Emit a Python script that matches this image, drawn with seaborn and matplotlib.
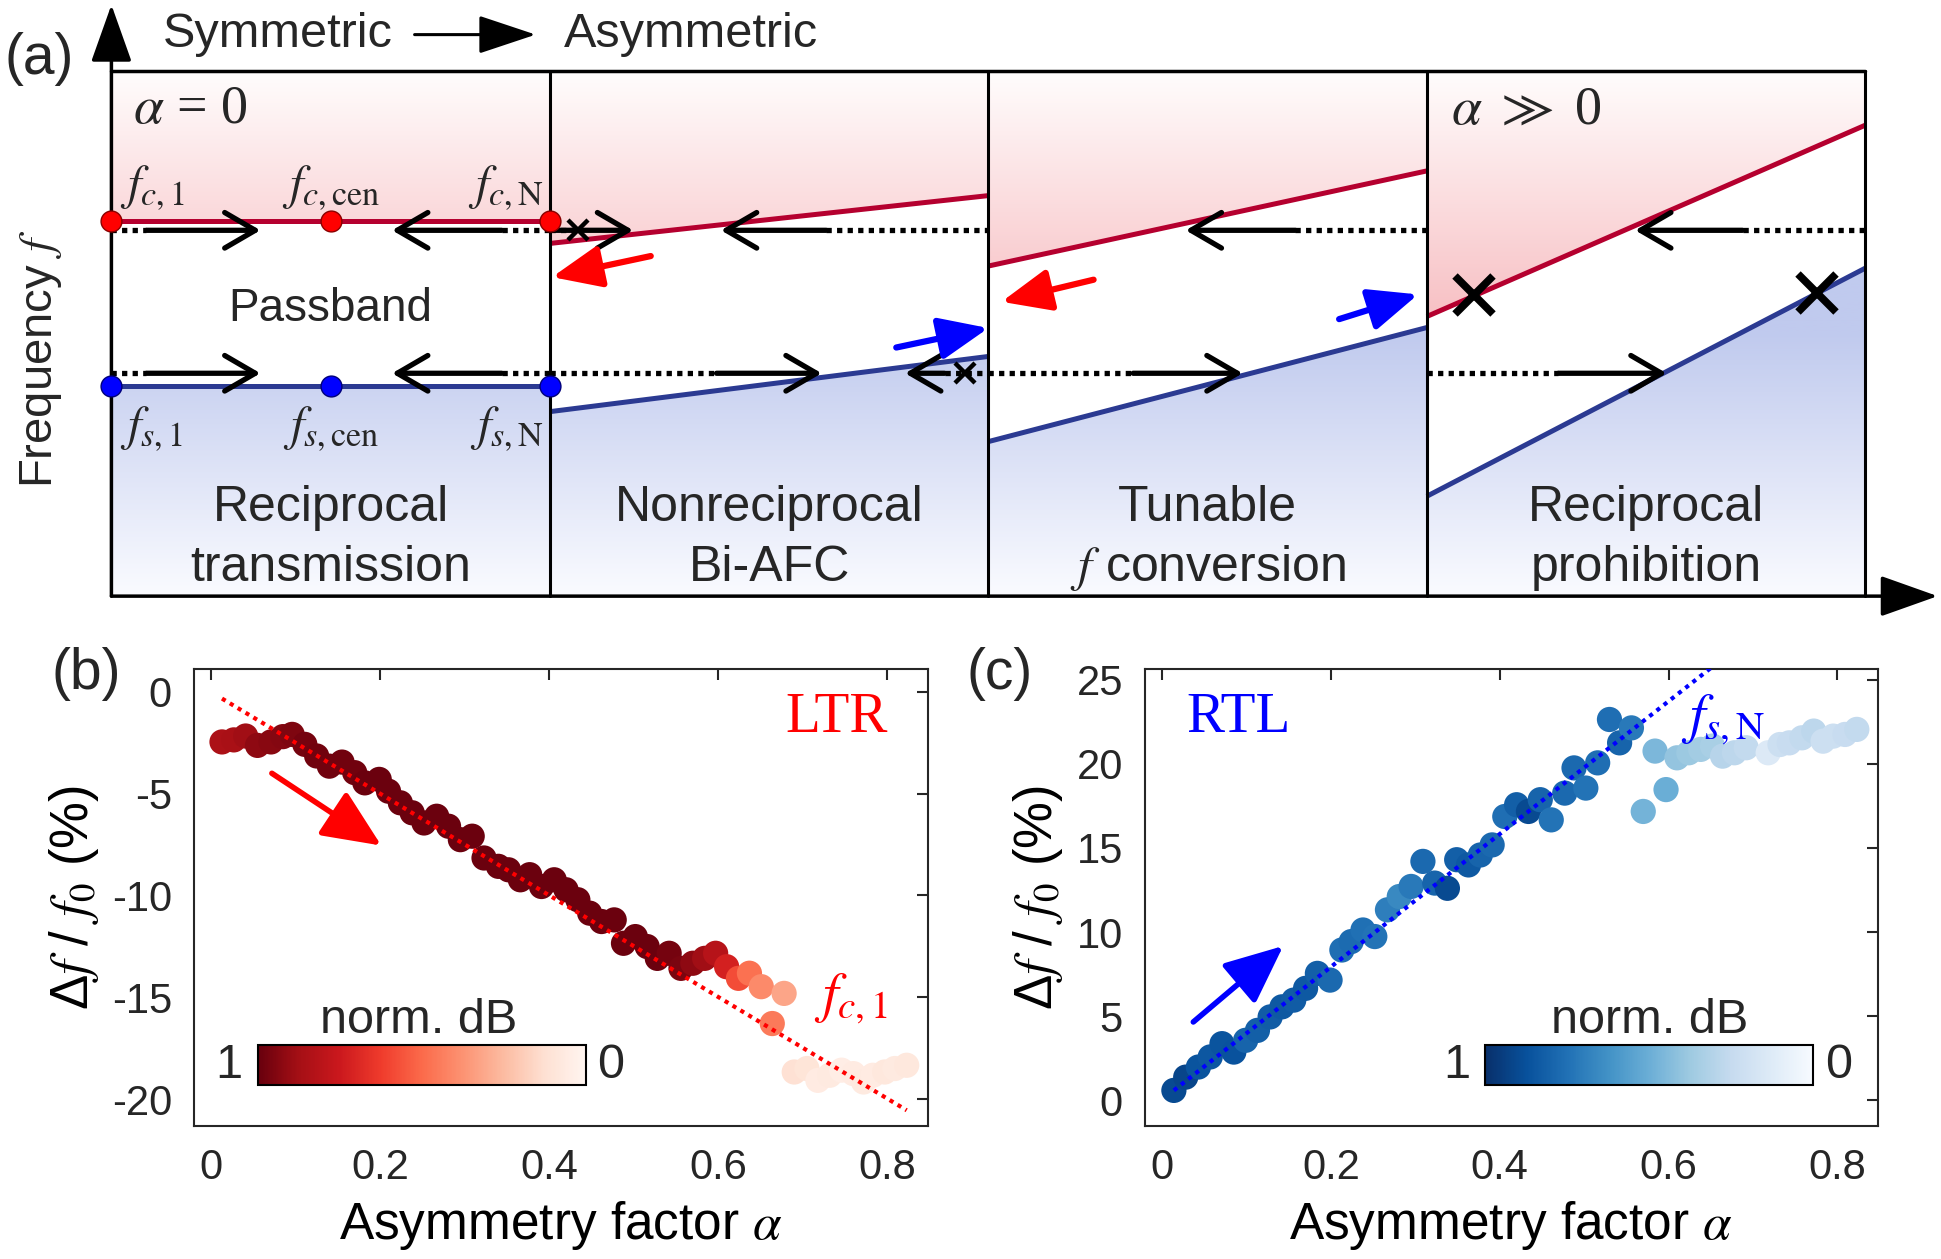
import numpy as np
import matplotlib
matplotlib.use("Agg")
import matplotlib.pyplot as plt
import seaborn as sns
import pandas as pd
from matplotlib.colors import Normalize
from matplotlib.patches import Polygon
import matplotlib.cm as cm

sns.set_theme(style="white")
plt.rcParams['font.family'] = ['Liberation Sans', 'DejaVu Sans']
plt.rcParams['mathtext.fontset'] = 'stix'
plt.rcParams['axes.unicode_minus'] = False

# ---------------- data: panel (b) LTR ----------------
ltr_alpha = [0.013, 0.027, 0.041, 0.055, 0.071, 0.085, 0.096, 0.111, 0.125, 0.140,
             0.155, 0.170, 0.182, 0.199, 0.210, 0.224, 0.238, 0.252, 0.267, 0.281,
             0.295, 0.309, 0.323, 0.340, 0.352, 0.366, 0.377, 0.391, 0.406, 0.420,
             0.434, 0.448, 0.462, 0.477, 0.488, 0.502, 0.516, 0.528, 0.542, 0.556,
             0.570, 0.584, 0.597, 0.610, 0.624, 0.637, 0.651, 0.678, 0.664, 0.690,
             0.705, 0.718, 0.732, 0.746, 0.760, 0.772, 0.783, 0.797, 0.809, 0.823]
ltr_shift = [-2.46, -2.36, -2.17, -2.63, -2.46, -2.20, -2.09, -2.58, -3.15, -3.65,
             -3.45, -3.97, -4.47, -4.30, -4.88, -5.45, -5.94, -6.44, -6.11, -6.60,
             -7.26, -7.09, -8.16, -8.57, -8.74, -9.23, -8.98, -9.56, -9.23, -9.72,
             -10.21, -10.87, -11.28, -11.20, -12.35, -12.02, -12.51, -13.09, -12.84, -13.58,
             -13.33, -13.09, -12.84, -13.50, -14.07, -13.82, -14.48, -14.81, -16.29, -18.67,
             -18.50, -19.08, -18.83, -18.58, -18.75, -19.16, -18.83, -18.67, -18.50, -18.34]
ltr_norm = [0.85, 0.86, 0.88, 0.92, 0.93, 0.94, 0.95, 0.97, 0.98, 0.98,
            0.98, 0.98, 0.99, 0.99, 0.99, 0.99, 0.99, 0.99, 0.99, 0.99,
            0.99, 0.99, 0.99, 0.99, 0.99, 0.99, 0.99, 0.99, 0.99, 0.99,
            0.99, 0.99, 0.99, 0.99, 0.99, 0.99, 0.99, 0.99, 0.97, 0.96,
            0.92, 0.88, 0.82, 0.72, 0.58, 0.48, 0.40, 0.32, 0.45, 0.12,
            0.10, 0.06, 0.07, 0.05, 0.06, 0.07, 0.06, 0.08, 0.07, 0.08]
ltr_fit_alpha = [0.013, 0.823]
ltr_fit_shift = [-0.33, -20.55]

# ---------------- data: panel (c) RTL ----------------
rtl_alpha = [0.014, 0.028, 0.043, 0.057, 0.071, 0.085, 0.099, 0.113, 0.128, 0.142,
             0.156, 0.170, 0.184, 0.199, 0.213, 0.224, 0.238, 0.252, 0.267, 0.281,
             0.295, 0.309, 0.323, 0.338, 0.349, 0.363, 0.377, 0.391, 0.406, 0.420,
             0.434, 0.448, 0.461, 0.477, 0.488, 0.502, 0.516, 0.530, 0.542, 0.556,
             0.570, 0.584, 0.597, 0.610, 0.624, 0.638, 0.652, 0.664, 0.678, 0.692,
             0.718, 0.732, 0.743, 0.758, 0.772, 0.783, 0.795, 0.809, 0.823]
rtl_shift = [0.58, 1.37, 1.97, 2.57, 3.36, 2.86, 3.56, 4.15, 4.95, 5.55,
             5.95, 6.65, 7.54, 7.14, 8.93, 9.43, 10.12, 9.73, 11.32, 12.11,
             12.71, 14.20, 12.91, 12.60, 14.30, 13.99, 14.58, 15.18, 16.87, 17.57,
             17.17, 17.87, 16.67, 18.26, 19.76, 18.56, 20.06, 22.64, 21.25, 22.14,
             17.17, 20.76, 18.47, 20.36, 20.66, 20.86, 21.06, 20.46, 20.66, 20.96,
             20.66, 21.15, 21.25, 21.55, 21.95, 21.35, 21.65, 21.75, 22.05]
rtl_norm = [0.90, 0.92, 0.86, 0.85, 0.86, 0.87, 0.80, 0.82, 0.83, 0.84,
            0.83, 0.84, 0.82, 0.78, 0.76, 0.77, 0.75, 0.74, 0.70, 0.66,
            0.72, 0.78, 0.80, 0.90, 0.82, 0.84, 0.80, 0.78, 0.76, 0.82,
            0.90, 0.80, 0.74, 0.78, 0.78, 0.74, 0.76, 0.76, 0.80, 0.72,
            0.48, 0.46, 0.50, 0.40, 0.38, 0.36, 0.34, 0.30, 0.28, 0.26,
            0.14, 0.22, 0.24, 0.26, 0.28, 0.22, 0.22, 0.24, 0.26]
rtl_fit_alpha = [0.014, 0.65]
rtl_fit_shift = [0.58, 25.7]

# ---------------- data: panel (a) schematic ----------------
stage_names = ["Reciprocal\ntransmission", "Nonreciprocal\nBi-AFC",
               "Tunable\n$f$ conversion", "Reciprocal\nprohibition"]
upper_left = [0.713, 0.671, 0.628, 0.532]
upper_right = [0.713, 0.762, 0.809, 0.896]
lower_left = [0.400, 0.351, 0.294, 0.190]
lower_right = [0.400, 0.456, 0.511, 0.624]
path_upper = 0.696
path_lower = 0.424
# dotted segments (x0, x1, y)
dotted_segments = [(0.0, 0.08, path_upper), (0.89, 1.0, path_upper),
                   (0.0, 0.08, path_lower), (0.89, 1.0, path_lower),
                   (1.0, 1.06, path_upper), (1.63, 2.0, path_upper),
                   (1.0, 1.38, path_lower), (1.9, 2.0, path_lower),
                   (2.70, 3.0, path_upper), (2.0, 2.33, path_lower),
                   (3.72, 4.0, path_upper), (3.0, 3.30, path_lower)]
# solid black arrows (x_tail, x_head, y)
black_arrows = [(0.08, 0.34, path_upper), (0.89, 0.64, path_upper),
                (0.08, 0.34, path_lower), (0.89, 0.64, path_lower),
                (1.0, 1.19, path_upper), (1.63, 1.39, path_upper),
                (1.38, 1.62, path_lower), (1.90, 1.81, path_lower),
                (2.70, 2.45, path_upper), (2.33, 2.58, path_lower),
                (3.72, 3.475, path_upper), (3.30, 3.547, path_lower)]
small_x_marks = [(1.065, path_upper), (1.947, path_lower)]
big_x_marks = [(3.107, 0.572), (3.89, 0.576)]
# coloured arrows ((x_tail, y_tail), (x_head, y_head), colour)
colour_arrows = [((1.23, 0.647), (1.005, 0.607), 'red'),
                 ((1.79, 0.473), (2.0, 0.510), 'blue'),
                 ((2.24, 0.602), (2.03, 0.560), 'red'),
                 ((2.80, 0.527), (2.98, 0.574), 'blue')]
dot_x = [0.0, 0.5, 1.0]

# ---------------- figure ----------------
fig = plt.figure(figsize=(19.41, 12.59), dpi=100)

axa = fig.add_axes([0.0574, 0.5265, 0.9036, 0.4175])
axa.set_xlim(0, 4)
axa.set_ylim(0, 1)
axa.axis('off')

red_line = '#b5002f'
blue_line = '#2b3a92'

def grad_image(c_low, c_high, y_low, y_high):
    ys = np.linspace(0, 1, 400)
    t = np.clip((ys - y_low) / (y_high - y_low), 0, 1)
    c_low = np.array(c_low) / 255.0
    c_high = np.array(c_high) / 255.0
    rgb = c_low[None, :] * (1 - t[:, None]) + c_high[None, :] * t[:, None]
    img = np.repeat(rgb[:, None, :], 2, axis=1)
    return img

red_img = grad_image((247, 188, 192), (255, 253, 253), 0.50, 1.0)
blue_img = grad_image((250, 251, 255), (192, 202, 238), 0.0, 0.50)

for i in range(4):
    pr = Polygon([(i, upper_left[i]), (i + 1, upper_right[i]), (i + 1, 1), (i, 1)],
                 closed=True, facecolor='none', edgecolor='none', transform=axa.transData)
    axa.add_patch(pr)
    im = axa.imshow(red_img, extent=[0, 4, 0, 1], origin='lower', aspect='auto', zorder=0)
    im.set_clip_path(pr)
    pb = Polygon([(i, lower_left[i]), (i + 1, lower_right[i]), (i + 1, 0), (i, 0)],
                 closed=True, facecolor='none', edgecolor='none', transform=axa.transData)
    axa.add_patch(pb)
    im2 = axa.imshow(blue_img, extent=[0, 4, 0, 1], origin='lower', aspect='auto', zorder=0)
    im2.set_clip_path(pb)
    axa.plot([i, i + 1], [upper_left[i], upper_right[i]], color=red_line, lw=3.6, zorder=2,
             solid_capstyle='butt')
    axa.plot([i, i + 1], [lower_left[i], lower_right[i]], color=blue_line, lw=3.6, zorder=2,
             solid_capstyle='butt')
    axa.text(i + 0.5, 0.168, stage_names[i].split('\n')[0], ha='center', va='center', fontsize=36)
    axa.text(i + 0.5, 0.053, stage_names[i].split('\n')[1], ha='center', va='center', fontsize=36)

axa.set_xlim(0, 4)
axa.set_ylim(0, 1)

# frame
for xv in [1, 2, 3, 4]:
    axa.plot([xv, xv], [0, 1], color='black', lw=2.2, zorder=5, clip_on=False)
axa.plot([0, 4], [1, 1], color='black', lw=2.5, zorder=5, clip_on=False)
# axis arrows
axa.annotate('', xy=(0, 1.125), xytext=(0, 0), xycoords='data',
             arrowprops=dict(arrowstyle='-|>,head_length=0.9,head_width=0.32', lw=2.5,
                             color='black', mutation_scale=40, shrinkA=0, shrinkB=0),
             annotation_clip=False, zorder=6)
axa.annotate('', xy=(4.165, 0), xytext=(0, 0), xycoords='data',
             arrowprops=dict(arrowstyle='-|>,head_length=0.9,head_width=0.32', lw=2.5,
                             color='black', mutation_scale=40, shrinkA=0, shrinkB=0),
             annotation_clip=False, zorder=6)

for (x0, x1, y) in dotted_segments:
    axa.plot([x0, x1], [y, y], color='black', lw=3.8, ls=(0, (1, 1)), zorder=3,
             solid_capstyle='butt', dash_capstyle='butt')
for (xt, xh, y) in black_arrows:
    axa.annotate('', xy=(xh, y), xytext=(xt, y),
                 arrowprops=dict(arrowstyle='->,head_length=0.55,head_width=0.32', lw=3.8,
                                 color='black', mutation_scale=40, shrinkA=0, shrinkB=0),
                 zorder=4)
for (xm, ym) in small_x_marks:
    axa.plot(xm, ym, marker='x', ms=14, mew=3.2, color='black', zorder=6)
for (xm, ym) in big_x_marks:
    axa.plot(xm, ym, marker='x', ms=27, mew=5.5, color='black', zorder=6)
for (tail, head, col) in colour_arrows:
    axa.annotate('', xy=head, xytext=tail,
                 arrowprops=dict(arrowstyle='-|>,head_length=0.75,head_width=0.32', lw=4.5,
                                 color=col, mutation_scale=40, shrinkA=0, shrinkB=0),
                 zorder=6, annotation_clip=False)

axa.plot(dot_x, [upper_left[0]] * 3, 'o', ms=15, mfc='red', mec='#8a0000', mew=1, zorder=7,
         clip_on=False)
axa.plot(dot_x, [lower_left[0]] * 3, 'o', ms=15, mfc='blue', mec='#00007a', mew=1, zorder=7,
         clip_on=False)

axa.text(0.02, 0.775, r'$f_{c,1}$', fontsize=35, ha='left', va='center')
axa.text(0.5, 0.775, r'$f_{c,\mathrm{cen}}$', fontsize=35, ha='center', va='center')
axa.text(0.985, 0.775, r'$f_{c,\mathrm{N}}$', fontsize=35, ha='right', va='center')
axa.text(0.02, 0.318, r'$f_{s,1}$', fontsize=35, ha='left', va='center')
axa.text(0.5, 0.318, r'$f_{s,\mathrm{cen}}$', fontsize=35, ha='center', va='center')
axa.text(0.985, 0.318, r'$f_{s,\mathrm{N}}$', fontsize=35, ha='right', va='center')
axa.text(0.5, 0.546, 'Passband', fontsize=33, ha='center', va='center')
axa.text(0.05, 0.925, r'$\alpha$ = 0', fontsize=39, ha='left', va='center',
         family=['Liberation Serif'])
axa.text(3.055, 0.925, r'$\alpha$ $\gg$ 0', fontsize=39, ha='left', va='center',
         family=['Liberation Serif'])

fig.text(0.1429, 0.9725, 'Symmetric', fontsize=35, ha='center', va='center')
fig.text(0.3559, 0.9725, 'Asymmetric', fontsize=35, ha='center', va='center')
axa.annotate('', xy=(0.2760, 0.9725), xytext=(0.2136, 0.9725), xycoords='figure fraction',
             arrowprops=dict(arrowstyle='-|>,head_length=0.9,head_width=0.3', lw=2.2,
                             color='black', mutation_scale=40, shrinkA=0, shrinkB=0))
fig.text(0.021, 0.715, 'Frequency $f$', fontsize=34, rotation=90, ha='center', va='center')
fig.text(0.020, 0.953, '(a)', fontsize=41, ha='center', va='center')
fig.text(0.0446, 0.4646, '(b)', fontsize=41, ha='center', va='center')
fig.text(0.515, 0.4646, '(c)', fontsize=41, ha='center', va='center')

# ---------------- panels (b) and (c) ----------------
def style_axes(ax):
    for s in ax.spines.values():
        s.set_color('#262626')
        s.set_linewidth(1.5)
        s.set_visible(True)
    ax.tick_params(direction='in', top=True, right=True, length=8, width=1.5,
                   labelsize=30, colors='#262626', pad=16)
    ax.set_xlim(-0.02, 0.848)
    ax.set_xticks([0, 0.2, 0.4, 0.6, 0.8])
    ax.set_xticklabels(['0', '0.2', '0.4', '0.6', '0.8'])
    ax.set_xlabel(r'Asymmetry factor $\alpha$', fontsize=37, color='black', labelpad=8)
    ax.set_ylabel(r'Δ$f$ / $f_0$ (%)', fontsize=38, color='black', labelpad=8)
    ax.grid(False)

axb = fig.add_axes([0.100, 0.106, 0.378, 0.3626])
df_b = pd.DataFrame({'alpha': ltr_alpha, 'shift': ltr_shift, 'norm': ltr_norm})
sns.scatterplot(data=df_b, x='alpha', y='shift', hue='norm', palette='Reds', hue_norm=(0, 1),
                s=330, linewidth=0, legend=False, ax=axb, zorder=3)
axb.plot(ltr_fit_alpha, ltr_fit_shift, color='red', lw=3, ls=(0, (1, 1.2)), zorder=4)
style_axes(axb)
axb.set_ylim(-21.3, 1.12)
axb.set_yticks([-20, -15, -10, -5, 0])
axb.set_yticklabels(['-20', '-15', '-10', '-5', '0'])
axb.text(0.74, -1.3, 'LTR', color='red', fontsize=41, family=['Liberation Serif'],
         ha='center', va='center')
axb.text(0.757, -15.1, r'$f_{c,1}$', color='red', fontsize=40, ha='center', va='center')
axb.annotate('', xy=(0.2015, -7.55), xytext=(0.072, -4.0),
             arrowprops=dict(arrowstyle='-|>,head_length=0.9,head_width=0.4', lw=4,
                             color='red', mutation_scale=40, shrinkA=0, shrinkB=0), zorder=5)

axc = fig.add_axes([0.590, 0.106, 0.3775, 0.3626])
df_c = pd.DataFrame({'alpha': rtl_alpha, 'shift': rtl_shift, 'norm': rtl_norm})
sns.scatterplot(data=df_c, x='alpha', y='shift', hue='norm', palette='Blues', hue_norm=(0, 1),
                s=330, linewidth=0, legend=False, ax=axc, zorder=3)
axc.plot(rtl_fit_alpha, rtl_fit_shift, color='blue', lw=3, ls=(0, (1, 1.2)), zorder=4)
style_axes(axc)
axc.set_ylim(-1.51, 25.64)
axc.set_yticks([0, 5, 10, 15, 20, 25])
axc.set_yticklabels(['0', '5', '10', '15', '20', '25'])
axc.text(0.091, 22.75, 'RTL', color='blue', fontsize=41, family=['Liberation Serif'],
         ha='center', va='center')
axc.text(0.664, 22.6, r'$f_{s,\mathrm{N}}$', color='blue', fontsize=40, ha='center', va='center')
axc.annotate('', xy=(0.1435, 9.17), xytext=(0.037, 4.65),
             arrowprops=dict(arrowstyle='-|>,head_length=0.9,head_width=0.4', lw=4,
                             color='blue', mutation_scale=40, shrinkA=0, shrinkB=0), zorder=5)

# colourbars
for left, cmap_name, cx in [(0.1327, 'Reds', 0.2156), (0.7653, 'Blues', 0.850)]:
    cax = fig.add_axes([left, 0.1385, 0.169, 0.0314])
    cb = fig.colorbar(cm.ScalarMappable(norm=Normalize(0, 1), cmap=cmap_name), cax=cax,
                      orientation='horizontal')
    cb.set_ticks([])
    cax.invert_xaxis()
    cb.outline.set_linewidth(1.5)
    cb.outline.set_edgecolor('black')
    fig.text(cx, 0.1896, 'norm. dB', fontsize=35, ha='center', va='center')
    fig.text(left - 0.0147, 0.154, '1', fontsize=35, ha='center', va='center')
    fig.text(left + 0.169 + 0.0127, 0.154, '0', fontsize=35, ha='center', va='center')

fig.savefig('out.png', dpi=100)
